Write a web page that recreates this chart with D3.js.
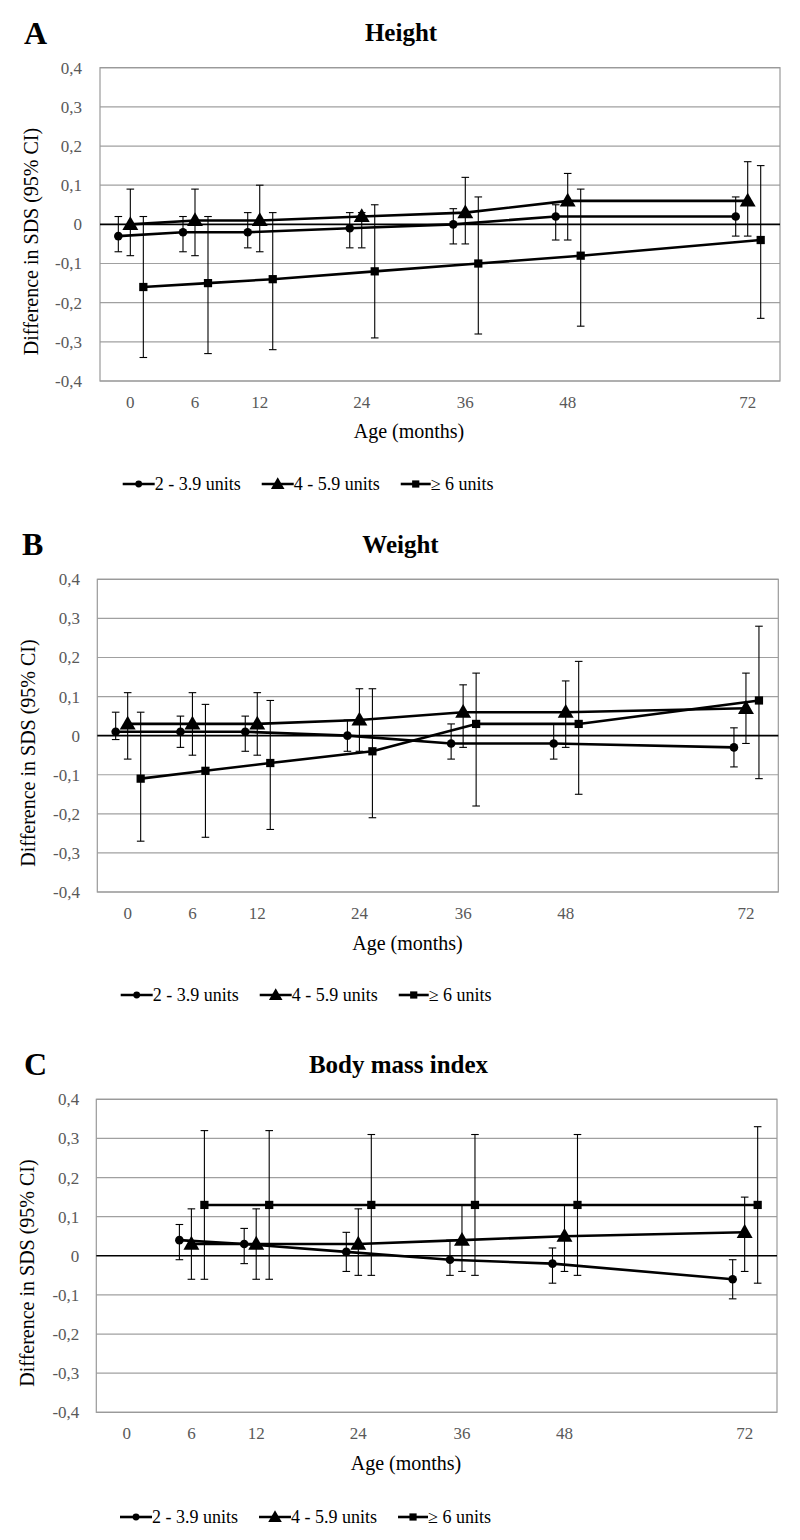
<!DOCTYPE html>
<html><head><meta charset="utf-8">
<script src="https://cdn.jsdelivr.net/npm/d3@7/dist/d3.min.js"></script>
<style>
html,body{margin:0;padding:0;background:#fff;}
svg, svg text{font-family:'Liberation Serif','Times New Roman','DejaVu Serif',serif;}
</style></head>
<body>
<svg id="chart" width="800" height="1540" font-family="'Liberation Serif', 'Times New Roman', 'DejaVu Serif', serif"></svg>
<script>
// ---------- data ----------
const ages = [0, 6, 12, 24, 36, 48, 72];
const ageLabels = ["0", "6", "12", "24", "36", "48", "72"];
const yTicks = [-0.4, -0.3, -0.2, -0.1, 0, 0.1, 0.2, 0.3, 0.4];
const seriesNames = ["2 - 3.9 units", "4 - 5.9 units", "\u2265 6 units"];
const panelLetters = ["A", "B", "C"];
const panelTitles = ["Height", "Weight", "Body mass index"];
const yAxisTitle = "Difference in SDS (95% CI)";
const xAxisTitle = "Age (months)";

// A: Height
const heightS1 = [-0.03, -0.02, -0.02, -0.01, 0.00, 0.02, 0.02];
const heightS1Lo = [-0.07, -0.07, -0.06, -0.06, -0.05, -0.04, -0.03];
const heightS1Hi = [0.02, 0.02, 0.03, 0.03, 0.04, 0.05, 0.07];
const heightS2 = [0.00, 0.01, 0.01, 0.02, 0.03, 0.06, 0.06];
const heightS2Lo = [-0.08, -0.08, -0.07, -0.06, -0.05, -0.04, -0.03];
const heightS2Hi = [0.09, 0.09, 0.10, 0.03, 0.12, 0.13, 0.16];
const heightS3 = [-0.16, -0.15, -0.14, -0.12, -0.10, -0.08, -0.04];
const heightS3Lo = [-0.34, -0.33, -0.32, -0.29, -0.28, -0.26, -0.24];
const heightS3Hi = [0.02, 0.02, 0.03, 0.05, 0.07, 0.09, 0.15];

// B: Weight
const weightS1 = [0.01, 0.01, 0.01, 0.00, -0.02, -0.02, -0.03];
const weightS1Lo = [-0.01, -0.03, -0.04, -0.04, -0.06, -0.06, -0.08];
const weightS1Hi = [0.06, 0.05, 0.05, 0.04, 0.03, 0.03, 0.02];
const weightS2 = [0.03, 0.03, 0.03, 0.04, 0.06, 0.06, 0.07];
const weightS2Lo = [-0.06, -0.05, -0.05, -0.04, -0.03, -0.03, -0.02];
const weightS2Hi = [0.11, 0.11, 0.11, 0.12, 0.13, 0.14, 0.16];
const weightS3 = [-0.11, -0.09, -0.07, -0.04, 0.03, 0.03, 0.09];
const weightS3Lo = [-0.27, -0.26, -0.24, -0.21, -0.18, -0.15, -0.11];
const weightS3Hi = [0.06, 0.08, 0.09, 0.12, 0.16, 0.19, 0.28];

// C: Body mass index (no value at 0 months)
const bmiS1 = [null, 0.04, 0.03, 0.01, -0.01, -0.02, -0.06];
const bmiS1Lo = [null, -0.01, -0.02, -0.04, -0.05, -0.07, -0.11];
const bmiS1Hi = [null, 0.08, 0.07, 0.06, 0.04, 0.02, -0.01];
const bmiS2 = [null, 0.03, 0.03, 0.03, 0.04, 0.05, 0.06];
const bmiS2Lo = [null, -0.06, -0.06, -0.05, -0.04, -0.04, -0.04];
const bmiS2Hi = [null, 0.12, 0.12, 0.12, 0.13, 0.13, 0.15];
const bmiS3 = [null, 0.13, 0.13, 0.13, 0.13, 0.13, 0.13];
const bmiS3Lo = [null, -0.06, -0.06, -0.05, -0.05, -0.05, -0.07];
const bmiS3Hi = [null, 0.32, 0.32, 0.31, 0.31, 0.31, 0.33];

// ---------- layout ----------
const FONT = "'Liberation Serif', 'Times New Roman', 'DejaVu Serif', serif";
const svg = d3.select("#chart");
const tickFrac = [0.0446, 0.1397, 0.2349, 0.3849, 0.5372, 0.6878, 0.9525];
const seriesOffset = [-12, 0, 13];
const markerTypes = [d3.symbolCircle, d3.symbolTriangle, d3.symbolSquare];
const markerSizes = [58, 110, 68];
const legendSizes = [36, 80, 52];

const panels = [
  {letter: panelLetters[0], title: panelTitles[0],
   x0: 100, x1: 780, y0: 67.7, y1: 381,
   letterX: 24, letterY: 44, titleX: 401, titleY: 41,
   yTickX: 82, xTickY: 408, xLabX: 409, xLabY: 438, yLabX: 38, yLabY: 241.5,
   legX: 122.7, legY: 484,
   series: [[heightS1, heightS1Lo, heightS1Hi], [heightS2, heightS2Lo, heightS2Hi], [heightS3, heightS3Lo, heightS3Hi]]},
  {letter: panelLetters[1], title: panelTitles[1],
   x0: 97.3, x1: 778.3, y0: 579.3, y1: 892,
   letterX: 22, letterY: 555, titleX: 400.5, titleY: 553,
   yTickX: 80, xTickY: 919, xLabX: 407.5, xLabY: 950, yLabX: 35, yLabY: 753,
   legX: 120.7, legY: 995,
   series: [[weightS1, weightS1Lo, weightS1Hi], [weightS2, weightS2Lo, weightS2Hi], [weightS3, weightS3Lo, weightS3Hi]]},
  {letter: panelLetters[2], title: panelTitles[2],
   x0: 96.3, x1: 777, y0: 1099.3, y1: 1412.3,
   letterX: 24, letterY: 1075, titleX: 398.5, titleY: 1073,
   yTickX: 79.3, xTickY: 1439, xLabX: 406, xLabY: 1470, yLabX: 34, yLabY: 1273,
   legX: 120, legY: 1517,
   series: [[bmiS1, bmiS1Lo, bmiS1Hi], [bmiS2, bmiS2Lo, bmiS2Hi], [bmiS3, bmiS3Lo, bmiS3Hi]]}
];

const fmt = v => (Math.abs(v) < 1e-9 ? "0" : d3.format(".1f")(v).replace(".", ",").replace("\u2212", "-"));

panels.forEach(p => {
  const g = svg.append("g").attr("font-family", FONT);
  const w = p.x1 - p.x0;
  const x = d3.scaleLinear().domain(ages).range(tickFrac.map(f => p.x0 + f * w));
  const y = d3.scaleLinear().domain([-0.4, 0.4]).range([p.y1, p.y0]);

  // panel letter & title
  g.append("text").attr("x", p.letterX).attr("y", p.letterY)
    .attr("font-size", 32).attr("font-weight", "bold").text(p.letter);
  g.append("text").attr("x", p.titleX).attr("y", p.titleY).attr("text-anchor", "middle")
    .attr("font-size", 25).attr("font-weight", "bold").text(p.title);

  // gridlines
  g.append("g").selectAll("line").data(yTicks.filter(t => t !== 0)).join("line")
    .attr("x1", p.x0).attr("x2", p.x1)
    .attr("y1", d => y(d)).attr("y2", d => y(d))
    .attr("stroke", "#a0a0a0").attr("stroke-width", 1.2);
  // frame
  g.append("rect").attr("x", p.x0).attr("y", p.y0).attr("width", w).attr("height", p.y1 - p.y0)
    .attr("fill", "none").attr("stroke", "#9a9a9a").attr("stroke-width", 1.2);
  // zero line
  g.append("line").attr("x1", p.x0).attr("x2", p.x1).attr("y1", y(0)).attr("y2", y(0))
    .attr("stroke", "#000").attr("stroke-width", 1.6);

  // y tick labels
  g.append("g").selectAll("text").data(yTicks).join("text")
    .attr("x", p.yTickX).attr("y", d => y(d)).attr("dy", "0.35em")
    .attr("text-anchor", "end").attr("font-size", 17).attr("fill", "#595959")
    .text(d => fmt(d));
  // x tick labels
  g.append("g").selectAll("text").data(ages).join("text")
    .attr("x", d => x(d)).attr("y", p.xTickY).attr("text-anchor", "middle")
    .attr("font-size", 17).attr("fill", "#595959")
    .text((d, i) => ageLabels[i]);

  // axis titles
  g.append("text").attr("x", p.xLabX).attr("y", p.xLabY).attr("text-anchor", "middle")
    .attr("font-size", 20).text(xAxisTitle);
  g.append("text").attr("transform", `translate(${p.yLabX},${p.yLabY}) rotate(-90)`)
    .attr("text-anchor", "middle").attr("font-size", 20).text(yAxisTitle);

  // series
  p.series.forEach((s, si) => {
    const [est, lo, hi] = s;
    const pts = ages.map((a, i) => ({a, v: est[i], lo: lo[i], hi: hi[i]})).filter(d => d.v !== null);
    const px = d => x(d.a) + seriesOffset[si];
    const sg = g.append("g");
    sg.append("path").datum(pts)
      .attr("d", d3.line().x(px).y(d => y(d.v)))
      .attr("fill", "none").attr("stroke", "#000").attr("stroke-width", 2.6)
      .attr("stroke-linejoin", "round");
    const eb = sg.append("g").attr("stroke", "#000").attr("stroke-width", 1.1);
    eb.selectAll("line.v").data(pts).join("line").attr("class", "v")
      .attr("x1", px).attr("x2", px).attr("y1", d => y(d.lo)).attr("y2", d => y(d.hi));
    eb.selectAll("line.t").data(pts).join("line").attr("class", "t")
      .attr("x1", d => px(d) - 3.8).attr("x2", d => px(d) + 3.8)
      .attr("y1", d => y(d.hi)).attr("y2", d => y(d.hi));
    eb.selectAll("line.b").data(pts).join("line").attr("class", "b")
      .attr("x1", d => px(d) - 3.8).attr("x2", d => px(d) + 3.8)
      .attr("y1", d => y(d.lo)).attr("y2", d => y(d.lo));
    sg.selectAll("path.m").data(pts).join("path").attr("class", "m")
      .attr("transform", d => `translate(${px(d)},${y(d.v) + (si === 1 ? 1 : 0)})`)
      .attr("d", d3.symbol().type(markerTypes[si]).size(markerSizes[si]))
      .attr("fill", "#000");
  });

  // legend
  const lg = g.append("g");
  let cx = p.legX;
  seriesNames.forEach((name, si) => {
    const len = si === 2 ? 30 : 32;
    lg.append("line").attr("x1", cx).attr("x2", cx + len).attr("y1", p.legY).attr("y2", p.legY)
      .attr("stroke", "#000").attr("stroke-width", 2.6);
    lg.append("path").attr("transform", `translate(${cx + len / 2},${p.legY + (si === 1 ? 1 : 0)})`)
      .attr("d", d3.symbol().type(markerTypes[si]).size(legendSizes[si])).attr("fill", "#000");
    const t = lg.append("text").attr("x", cx + len).attr("y", p.legY).attr("dy", "0.35em")
      .attr("font-size", 18).text(name);
    cx += len + t.node().getComputedTextLength() + 21;
  });
});
</script>
</body></html>
